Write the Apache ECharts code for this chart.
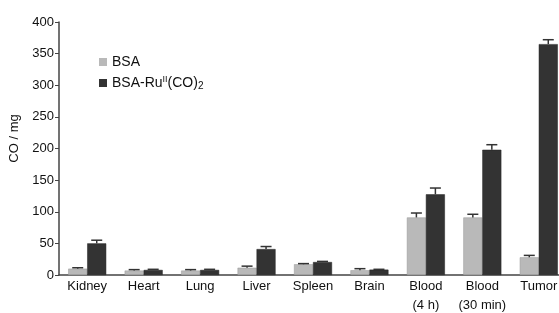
<!DOCTYPE html>
<html>
<head>
<meta charset="utf-8">
<script src="https://cdn.jsdelivr.net/npm/echarts@6/dist/echarts.min.js"></script>
<style>
  html, body { margin: 0; padding: 0; background: #fff; }
  #chart { width: 559px; height: 313px; }
</style>
</head>
<body>
<div id="chart"></div>
<script>
const categories = ["Kidney", "Heart", "Lung", "Liver", "Spleen", "Brain", "Blood\n(4 h)", "Blood\n(30 min)", "Tumor"];
const bsa = [10, 7, 7, 11.5, 17, 7.5, 91, 91, 28];
const bsaErr = [1.5, 1.5, 1.5, 2.5, 1, 2.5, 7, 5, 3];
const ru = [50, 8, 8, 41, 20.5, 8.5, 127.5, 198, 365];
const ruErr = [5, 1, 1, 4, 1, 0.5, 10, 8, 7];
const yTicks = [0, 50, 100, 150, 200, 250, 300, 350, 400];

const BAR_W = 19;
const LIGHT = "#b9b9b9";
const DARK = "#333333";

const errorSeries = (vals, errs, side) => ({
  type: "custom",
  silent: true,
  z: 5,
  data: vals.map((v, i) => [i, v, v + errs[i]]),
  renderItem: (params, api) => {
    const base = api.coord([api.value(0), api.value(1)]);
    const top = api.coord([api.value(0), api.value(2)]);
    const x = base[0] + side * BAR_W / 2;
    const style = { stroke: "#333", lineWidth: 1.5 };
    return {
      type: "group",
      children: [
        { type: "line", shape: { x1: x, y1: base[1], x2: x, y2: top[1] }, style },
        { type: "line", shape: { x1: x - 5.5, y1: top[1], x2: x + 5.5, y2: top[1] }, style }
      ]
    };
  }
});

const chart = echarts.init(document.getElementById("chart"));
chart.setOption({
  animation: false,
  textStyle: { fontFamily: "Liberation Sans, Arial, sans-serif" },
  legend: {
    left: 94,
    top: 50,
    orient: "vertical",
    itemWidth: 8,
    itemHeight: 8,
    itemGap: 6,
    icon: "rect",
    itemStyle: { borderWidth: 0 },
    data: ["BSA", "BSA-Ru"],
    formatter: name => name === "BSA" ? "BSA" : "BSA-Ru{sup|II}(CO){sub|2}",
    textStyle: {
      fontSize: 14,
      color: "#111",
      rich: {
        sup: { fontSize: 9, verticalAlign: "top", padding: [0, 0, 6, 0], color: "#111" },
        sub: { fontSize: 10, verticalAlign: "bottom", padding: [6, 0, 0, 0], color: "#111" }
      }
    }
  },
  grid: { left: 59, top: 22, width: 508, height: 253, outerBoundsMode: "none", containLabel: false },
  xAxis: {
    type: "category",
    data: categories,
    axisLine: { lineStyle: { color: "#444", width: 1.5 } },
    axisTick: { show: false },
    axisLabel: { fontSize: 13, color: "#111", lineHeight: 19, margin: 2, interval: 0 }
  },
  yAxis: {
    type: "value",
    min: yTicks[0],
    max: yTicks[yTicks.length - 1],
    interval: 50,
    name: "CO / mg",
    nameLocation: "middle",
    nameGap: 34,
    nameTextStyle: { fontSize: 13, color: "#111", padding: [0, 0, 0, 20] },
    axisLine: { show: true, lineStyle: { color: "#444", width: 1.5 } },
    axisTick: { show: true, length: 4, lineStyle: { color: "#444" } },
    splitLine: { show: false },
    axisLabel: { fontSize: 13, color: "#111", margin: 5 }
  },
  series: [
    {
      name: "BSA",
      type: "bar",
      data: bsa,
      barWidth: BAR_W,
      barGap: "0%",
      itemStyle: { color: LIGHT, borderColor: "#999", borderWidth: 0.5 }
    },
    {
      name: "BSA-Ru",
      type: "bar",
      data: ru,
      barWidth: BAR_W,
      barGap: "0%",
      itemStyle: { color: DARK, borderColor: "#222", borderWidth: 0.5 }
    },
    errorSeries(bsa, bsaErr, -1),
    errorSeries(ru, ruErr, 1)
  ]
});
</script>
</body>
</html>
